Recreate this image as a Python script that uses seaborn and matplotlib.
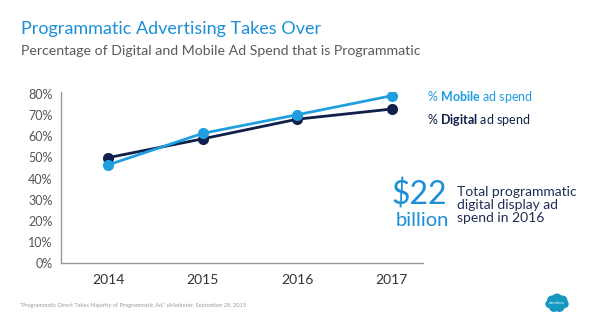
import matplotlib
matplotlib.use("Agg")
import matplotlib.pyplot as plt
import seaborn as sns
import pandas as pd
from matplotlib.patches import Circle

years = [2014, 2015, 2016, 2017]
mobile = [46.5, 61.4, 70.2, 79.2]
digital = [49.9, 58.8, 68.1, 72.9]
yticks = [0, 10, 20, 30, 40, 50, 60, 70, 80]
ytick_labels = ["0%", "10%", "20%", "30%", "40%", "50%", "60%", "70%", "80%"]

BLUE = "#1f9fdf"
NAVY = "#10204a"
TITLE_BLUE = "#1b8fd8"

sns.set_style("white")
plt.rcParams["font.family"] = ["Lato", "DejaVu Sans"]
plt.rcParams["mathtext.fontset"] = "custom"
plt.rcParams["mathtext.rm"] = "Lato"
plt.rcParams["mathtext.bf"] = "Lato:bold"

df = pd.DataFrame({
    "year": years * 2,
    "value": digital + mobile,
    "series": ["Digital"] * 4 + ["Mobile"] * 4,
})

fig = plt.figure(figsize=(6, 3.26), dpi=100)
ax = fig.add_axes([0.1017, 0.193, 0.603, 0.525])
sns.lineplot(data=df, x="year", y="value", hue="series",
             palette={"Digital": NAVY, "Mobile": BLUE},
             marker="o", markersize=8, markeredgewidth=0, linewidth=2,
             legend=False, ax=ax)

ax.set_xlim(2013.5, 2017.33)
ax.set_ylim(0, 81)
ax.set_xticks(years)
ax.set_xticklabels([str(y) for y in years], fontsize=10, color="#333333")
ax.set_yticks(yticks)
ax.set_yticklabels(ytick_labels, fontsize=9, color="#555555")
ax.tick_params(axis="both", length=0)
ax.tick_params(axis="y", pad=6)
ax.tick_params(axis="x", pad=8)
ax.set_xlabel("")
ax.set_ylabel("")
for s in ["top", "right"]:
    ax.spines[s].set_visible(False)
for s in ["left", "bottom"]:
    ax.spines[s].set_color("#9a9a9a")
    ax.spines[s].set_linewidth(1)

# Titles
fig.text(21/600, 1 - 29/326, "Programmatic Advertising Takes Over",
         fontsize=13, color=TITLE_BLUE, va="center", ha="left")
fig.text(21/600, 1 - 51/326, "Percentage of Digital and Mobile Ad Spend that is Programmatic",
         fontsize=10.2, color="#5a5a5a", va="center", ha="left")

# Legend texts
fig.text(427/600, 1 - 97/326, r"% $\mathbf{Mobile}$ ad spend", fontsize=9, color=BLUE,
         va="center", ha="left")
fig.text(427/600, 1 - 120/326, r"% $\mathbf{Digital}$ ad spend", fontsize=9, color=NAVY,
         va="center", ha="left")

# Big number callout
fig.text(447/600, 1 - 195/326, "$22", fontsize=23, color=TITLE_BLUE,
         va="center", ha="right")
fig.text(449/600, 1 - 221/326, "billion", fontsize=14.5, color=TITLE_BLUE,
         va="center", ha="right")
fig.text(457/600, 1 - 205/326, "Total programmatic\ndigital display ad\nspend in 2016",
         fontsize=10, color="#1e2d55", va="center", ha="left", linespacing=1.05)

# Footnote
fig.text(20/600, 1 - 305/326,
         "\u201cProgrammatic Direct Takes Majority of Programmatic Ad,\u201d eMarketer, September 28, 2015",
         fontsize=4.1, color="#9a9a9a", va="center", ha="left")

# Salesforce cloud logo
lax = fig.add_axes([545/600, 1 - 313/326, 24/600, 20/326])
lax.set_xlim(0, 24)
lax.set_ylim(0, 20)
lax.axis("off")
cloud = "#1798c1"
for (cx, cy, r) in [(7, 12.5, 5), (12, 14, 5.5), (17.5, 12.5, 5), (19.5, 9, 4.2),
                    (14.5, 6, 5), (9, 6, 5), (4.5, 9, 4.2)]:
    lax.add_patch(Circle((cx, cy), r, color=cloud, lw=0))
lax.text(12, 10, "salesforce", fontsize=2.6, color="white", ha="center", va="center")

fig.savefig("out.png", dpi=100)
